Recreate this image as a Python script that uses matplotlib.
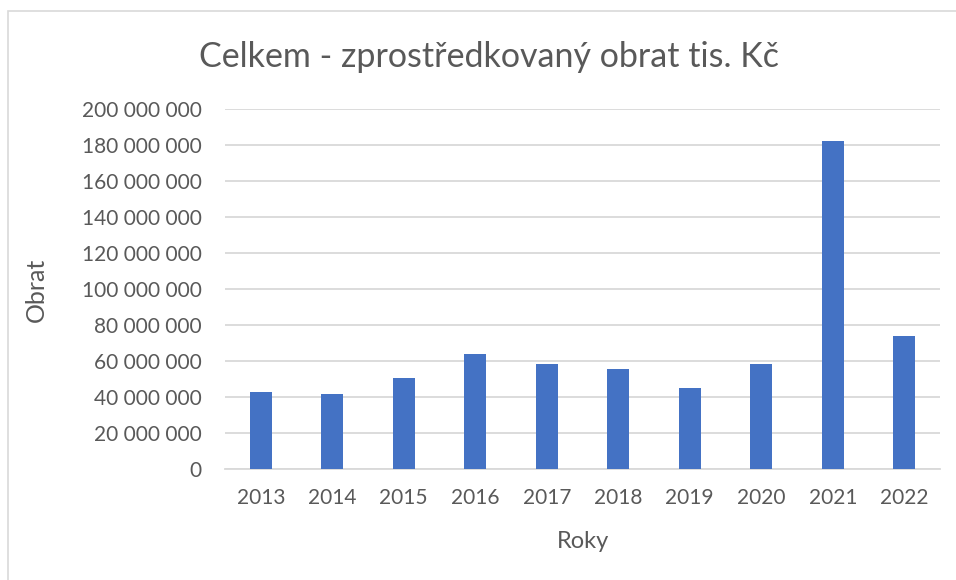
import matplotlib
matplotlib.use("Agg")
import matplotlib.pyplot as plt
from matplotlib.patches import Rectangle
from matplotlib.ticker import FuncFormatter

years = ["2013", "2014", "2015", "2016", "2017", "2018", "2019", "2020", "2021", "2022"]
obrat = [42.6e6, 41.7e6, 50.4e6, 63.9e6, 58.3e6, 55.3e6, 44.8e6, 58.1e6, 182.2e6, 73.7e6]
yticks = [0, 20e6, 40e6, 60e6, 80e6, 100e6, 120e6, 140e6, 160e6, 180e6, 200e6]

plt.rcParams['font.family'] = ['Lato', 'DejaVu Sans']
W, H = 956, 580
fig = plt.figure(figsize=(W/100, H/100), dpi=100)
fig.patch.set_facecolor('white')

# outer chart border
fig.add_artist(Rectangle((8/W, -0.1), 1.2, 1.1 - 11/H, transform=fig.transFigure,
                         fill=False, edgecolor='#d9d9d9', linewidth=1.2))

ax = fig.add_axes([225/W, 111/H, 715/W, 360/H])
x = range(len(years))
ax.bar(x, obrat, width=0.31, color='#4472C4', zorder=3)
ax.set_xlim(-0.5, len(years) - 0.5)
ax.set_ylim(0, 200e6)
ax.set_yticks(yticks)
ax.yaxis.set_major_formatter(FuncFormatter(lambda v, p: f"{int(round(v)):,}".replace(",", " ")))
ax.set_xticks(list(x))
ax.set_xticklabels(years)
ax.grid(axis='y', color='#d9d9d9', linewidth=1.3, zorder=0)
for s in ['top', 'right', 'left']:
    ax.spines[s].set_visible(False)
ax.spines['bottom'].set_color('#d9d9d9')
ax.spines['bottom'].set_linewidth(1.3)
ax.tick_params(axis='both', length=0, labelsize=15, colors='#595959')
ax.tick_params(axis='y', pad=17)
ax.tick_params(axis='x', pad=14)

fig.text(489/W, 1 - 57/H, "Celkem - zprostředkovaný obrat tis. Kč", ha='center', va='center',
         fontsize=24.5, color='#595959')
fig.text(583/W, 1 - 541/H, "Roky", ha='center', va='center', fontsize=17, color='#595959')
fig.text(36/W, 1 - 290/H, "Obrat", ha='center', va='center', rotation=90, fontsize=18, color='#595959')

fig.savefig("out.png", dpi=100, facecolor='white')
